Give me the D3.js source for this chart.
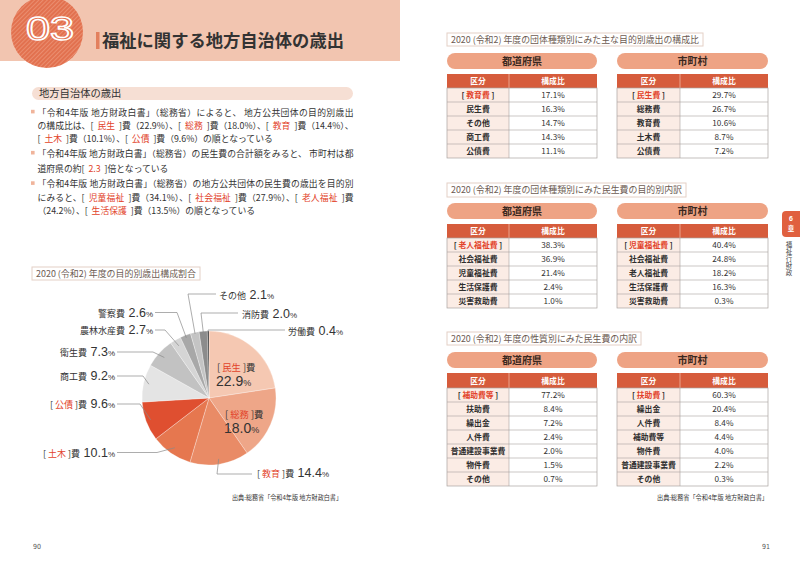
<!DOCTYPE html>
<html><head><meta charset="utf-8">
<script src="https://cdn.jsdelivr.net/npm/d3@7"></script>
<style>body{margin:0;background:#fff}svg{display:block}</style>
</head><body><svg id="c" width="800" height="568"></svg>
<script>
// ---------- DATA ----------
const pieCategories = ["民生費","総務費","教育費","土木費","公債費","商工費","衛生費","農林水産費","警察費","その他","消防費","労働費"];
const pieValues = [22.9,18.0,14.4,10.1,9.6,9.2,7.3,2.7,2.6,2.1,2.0,0.4];
const pieHighlighted = [true,true,true,true,true,false,false,false,false,false,false,false];

const t1PrefNames = ["教育費","民生費","その他","商工費","公債費"];
const t1PrefValues = [17.1,16.3,14.7,14.3,11.1];
const t1MuniNames = ["民生費","総務費","教育費","土木費","公債費"];
const t1MuniValues = [29.7,26.7,10.6,8.7,7.2];

const t2PrefNames = ["老人福祉費","社会福祉費","児童福祉費","生活保護費","災害救助費"];
const t2PrefValues = [38.3,36.9,21.4,2.4,1.0];
const t2MuniNames = ["児童福祉費","社会福祉費","老人福祉費","生活保護費","災害救助費"];
const t2MuniValues = [40.4,24.8,18.2,16.3,0.3];

const t3PrefNames = ["補助費等","扶助費","繰出金","人件費","普通建設事業費","物件費","その他"];
const t3PrefValues = [77.2,8.4,7.2,2.4,2.0,1.5,0.7];
const t3MuniNames = ["扶助費","繰出金","人件費","補助費等","物件費","普通建設事業費","その他"];
const t3MuniValues = [60.3,20.4,8.4,4.4,4.0,2.2,0.3];

// ---------- STYLE ----------
const JP = '"Noto Sans CJK JP", sans-serif';
const NUM = '"Liberation Sans", Arial, sans-serif';
const RED = "#e2432a";
const TXT = "#333";
const pieColors = ["#f5c8b2","#eea688","#e98b66","#e6774f","#df4f30","#e4e4e4","#c2c2c2","#d5d5d5","#a8a8a8","#c4c4c4","#8c8c8c","#3a3a3a"];

const svg = d3.select("#c");
const defs = svg.append("defs");

// ---------- HEADER ----------
svg.append("rect").attr("x",0).attr("y",0).attr("width",400).attr("height",61).attr("fill","#f2c5b0");
const pat = defs.append("pattern").attr("id","stripe").attr("width",3).attr("height",3)
  .attr("patternUnits","userSpaceOnUse").attr("patternTransform","rotate(45)");
pat.append("rect").attr("width",3).attr("height",3).attr("fill","#e2714f");
pat.append("rect").attr("width",1).attr("height",3).attr("fill","#ea8d6f");
svg.append("circle").attr("cx",47).attr("cy",32).attr("r",36).attr("fill","url(#stripe)");
svg.append("text").attr("x",26).attr("y",39.5).attr("textLength",48).attr("lengthAdjust","spacingAndGlyphs")
  .attr("font-family",NUM).attr("font-size",33).attr("fill","#e2714f").attr("stroke","#fff").attr("stroke-width",1.5)
  .text("03");
svg.append("rect").attr("x",96).attr("y",32).attr("width",3.5).attr("height",17).attr("fill","#e3805e");
svg.append("text").attr("x",102).attr("y",47).attr("font-family",JP).attr("font-weight","bold")
  .attr("font-size",17.3).attr("fill",TXT).text("福祉に関する地方自治体の歳出");

// ---------- LEFT TEXT ----------
svg.append("rect").attr("x",32).attr("y",87).attr("width",321).attr("height",13).attr("rx",6.5).attr("fill","#f6dfd4");
svg.append("text").attr("x",39).attr("y",97.3).attr("font-family",JP).attr("font-size",10.3).attr("fill",TXT).text("地方自治体の歳出");

const bulletLines = [
 {y:115.8, b:true, j:true, t:"「令和4年版 地方財政白書」（総務省）によると、 地方公共団体の目的別歳出"},
 {y:128.8, j:true, t:"の構成比は、[ {民生} ]費（22.9%）、[ {総務} ]費（18.0%）、[ {教育} ]費（14.4%）、"},
 {y:141.6, t:"[ {土木} ]費（10.1%）、[ {公債} ]費（9.6%）の順となっている"},
 {y:156.9, b:true, j:true, t:"「令和4年版 地方財政白書」（総務省）の民生費の合計額をみると、 市町村は都"},
 {y:171.6, t:"道府県の約[ {2.3} ]倍となっている"},
 {y:187.3, b:true, j:true, t:"「令和4年版 地方財政白書」（総務省）の地方公共団体の民生費の歳出を目的別"},
 {y:200.6, j:true, t:"にみると、[ {児童福祉} ]費（34.1%）、[ {社会福祉} ]費（27.9%）、[ {老人福祉} ]費"},
 {y:213.5, t:"（24.2%）、[ {生活保護} ]費（13.5%）の順となっている"}
];
function richText(sel, str, red){
  str.split(/(\{[^}]*\})/).filter(s=>s.length).forEach(s=>{
    const isRed = s[0]==="{";
    sel.append("tspan").attr("fill", isRed?red:null).text(isRed? " "+s.slice(1,-1)+" " : s);
  });
}
bulletLines.forEach(l=>{
  if(l.b) svg.append("rect").attr("x",31).attr("y",l.y-6).attr("width",3.6).attr("height",3.6).attr("fill","#f0b49b");
  const t = svg.append("text").attr("x",37.5).attr("y",l.y).attr("font-family",JP).attr("font-size",8.8).attr("fill",TXT)
    .attr("xml:space","preserve");
  if(l.j) t.attr("textLength",316).attr("lengthAdjust","spacing");
  richText(t, l.t, RED);
});

// ---------- TITLE BOXES ----------
function titleBox(x,y,w,h,label,fs){
  svg.append("rect").attr("x",x).attr("y",y).attr("width",w).attr("height",h).attr("fill","#fff")
    .attr("stroke","#e4d0c6").attr("stroke-width",1);
  svg.append("text").attr("x",x+4).attr("y",y+h/2+3.2).attr("font-family",JP).attr("font-size",fs)
    .attr("fill","#6d5b52").attr("textLength",w-8).attr("lengthAdjust","spacingAndGlyphs").text(label);
}
titleBox(32,267,168,13,"2020 (令和2) 年度の目的別歳出構成割合",8.6);
titleBox(447,33,256,13,"2020 (令和2) 年度の団体種類別にみた主な目的別歳出の構成比",9);
titleBox(447,183,239,14,"2020 (令和2) 年度の団体種類別にみた民生費の目的別内訳",9);
titleBox(447,332,194,13,"2020 (令和2) 年度の性質別にみた民生費の内訳",9);

// ---------- PIE ----------
const cx=209, cy=398, R=67;
const pie = d3.pie().sort(null).value(d=>d.v);
const arcs = pie(pieCategories.map((c,i)=>({c, v:pieValues[i], i})));
const arc = d3.arc().innerRadius(0).outerRadius(R);
const pg = svg.append("g").attr("transform",`translate(${cx},${cy})`);
pg.selectAll("path").data(arcs).join("path").attr("d",arc)
  .attr("fill",d=>pieColors[d.data.i]).attr("stroke","#fff").attr("stroke-width",0.3);

// label layout (text placement only; anchors come from the arcs)
const labelLayout = [
 {inside:true, x:217, y:370.5},
 {inside:true, x:225, y:417.5},
 {anchor:"start", tx:257, ty:476.5, pts:[[252,474],[217,474]], rf:0.92},
 {anchor:"end", tx:115, ty:456.5, pts:[[117,452.5],[157,452.5]], rf:0.9},
 {anchor:"end", tx:115, ty:408, pts:[[117,404],[140,404]], rf:0.93},
 {anchor:"end", tx:115, ty:380, pts:[[117,376],[143,376]], rf:0.92},
 {anchor:"end", tx:115, ty:356, pts:[[117,352],[153,352]], rf:0.9},
 {anchor:"end", tx:153, ty:334, pts:[[155,330],[165,330]], rf:0.9},
 {anchor:"end", tx:153, ty:316.5, pts:[[155,312.5],[177,312.5]], rf:0.96},
 {anchor:"start", tx:219, ty:298.5, pts:[[216,294],[188,294]], rf:0.98},
 {anchor:"start", tx:242, ty:317.5, pts:[[238,313],[201,313]], rf:0.98},
 {anchor:"start", tx:288, ty:334.5, pts:[[285,330],[208,330]], rf:1.0}
];
function nameParts(t, i){
  const c = pieCategories[i];
  if(pieHighlighted[i]){
    t.append("tspan").text("[ ");
    t.append("tspan").attr("fill",RED).text(c.replace(/費$/,""));
    t.append("tspan").text(" ]費");
  } else t.append("tspan").text(c);
}
arcs.forEach((a,i)=>{
  const L = labelLayout[i];
  if(L.inside){
    const t1 = svg.append("text").attr("x",L.x).attr("y",L.y).attr("font-family",JP).attr("font-size",9.3).attr("fill",TXT).attr("xml:space","preserve");
    nameParts(t1,i);
    const t2 = svg.append("text").attr("x",L.x-1).attr("y",L.y+15.8).attr("font-family",NUM).attr("fill",TXT);
    t2.append("tspan").attr("font-size",14).text(pieValues[i].toFixed(1));
    t2.append("tspan").attr("font-size",9).text("%");
    return;
  }
  const mid = (a.startAngle+a.endAngle)/2;
  const ax = cx + R*L.rf*Math.sin(mid), ay = cy - R*L.rf*Math.cos(mid);
  const pts = L.pts.concat([[ax,ay]]);
  svg.append("path").attr("d",d3.line()(pts)).attr("fill","none").attr("stroke","#8a8a8a").attr("stroke-width",0.7);
  const t = svg.append("text").attr("x",L.tx).attr("y",L.ty).attr("text-anchor",L.anchor)
    .attr("font-family",JP).attr("font-size",9).attr("fill",TXT).attr("xml:space","preserve");
  nameParts(t,i);
  t.append("tspan").attr("font-family",NUM).attr("font-size",12.5).text(" "+pieValues[i].toFixed(1));
  t.append("tspan").attr("font-family",NUM).attr("font-size",8).text("%");
});
svg.append("text").attr("x",232).attr("y",499.5).attr("font-family",JP).attr("font-size",6.3).attr("fill",TXT)
  .attr("textLength",110).attr("lengthAdjust","spacingAndGlyphs").text("出典:総務省「令和4年版 地方財政白書」");

// ---------- TABLES ----------
function drawTable(x0,w1,w2,pillY,headY,headH,rowH,label,names,values){
  const W=w1+w2;
  svg.append("rect").attr("x",x0).attr("y",pillY).attr("width",W).attr("height",16).attr("rx",8).attr("fill","#eea384");
  svg.append("text").attr("x",x0+W/2).attr("y",pillY+11.5).attr("text-anchor","middle").attr("font-family",JP)
    .attr("font-weight","bold").attr("font-size",10).attr("fill","#3a2820").text(label);
  svg.append("rect").attr("x",x0).attr("y",headY).attr("width",W).attr("height",headH).attr("fill","#d65c3c");
  svg.append("line").attr("x1",x0+w1).attr("x2",x0+w1).attr("y1",headY).attr("y2",headY+headH).attr("stroke","#f3c0ad").attr("stroke-width",0.7);
  [["区分",x0+w1/2],["構成比",x0+w1+w2/2]].forEach(([s,x])=>{
    svg.append("text").attr("x",x).attr("y",headY+headH/2+3).attr("text-anchor","middle").attr("font-family",JP)
      .attr("font-weight","bold").attr("font-size",7.8).attr("fill","#fff").text(s);
  });
  const y = d3.scaleBand().domain(d3.range(names.length)).range([headY+headH, headY+headH+rowH*names.length]);
  const g = svg.append("g");
  const rows = g.selectAll("g").data(names.map((n,i)=>({n,v:values[i],i}))).join("g");
  rows.append("rect").attr("x",x0).attr("y",d=>y(d.i)).attr("width",w1).attr("height",y.bandwidth()).attr("fill","#fbece5");
  rows.append("rect").attr("x",x0+w1).attr("y",d=>y(d.i)).attr("width",w2).attr("height",y.bandwidth()).attr("fill","#fff");
  rows.each(function(d){
    const r = d3.select(this);
    const t = r.append("text").attr("x",x0+w1/2).attr("y",y(d.i)+y.bandwidth()/2+3).attr("text-anchor","middle")
      .attr("font-family",JP).attr("font-weight","bold").attr("font-size",7.8).attr("fill","#2e2e2e").attr("xml:space","preserve");
    if(d.i===0){ t.append("tspan").text("[ "); t.append("tspan").attr("fill",RED).text(d.n); t.append("tspan").text(" ]"); }
    else t.text(d.n);
    r.append("text").attr("x",x0+w1+w2/2).attr("y",y(d.i)+y.bandwidth()/2+3).attr("text-anchor","middle")
      .attr("font-family",JP).attr("font-size",8.2).attr("fill","#333").text(d.v.toFixed(1)+"%");
  });
  names.forEach((n,i)=>{
    if(i>0) g.append("line").attr("x1",x0).attr("x2",x0+W).attr("y1",y(i)).attr("y2",y(i)).attr("stroke","#a9a3a0").attr("stroke-width",0.6);
  });
  const yb = headY+headH+rowH*names.length;
  g.append("line").attr("x1",x0+w1).attr("x2",x0+w1).attr("y1",headY+headH).attr("y2",yb).attr("stroke","#a9a3a0").attr("stroke-width",0.6);
  g.append("rect").attr("x",x0).attr("y",headY+headH).attr("width",W).attr("height",rowH*names.length)
    .attr("fill","none").attr("stroke","#a9a3a0").attr("stroke-width",0.7);
}
drawTable(447,62,88,53,74,14,14,"都道府県",t1PrefNames,t1PrefValues);
drawTable(617,63,88,53,74,14,14,"市町村",t1MuniNames,t1MuniValues);
drawTable(447,62,88,203,224,14,14,"都道府県",t2PrefNames,t2PrefValues);
drawTable(617,63,88,203,224,14,14,"市町村",t2MuniNames,t2MuniValues);
drawTable(447,62,88,352,373,15,14,"都道府県",t3PrefNames,t3PrefValues);
drawTable(617,63,88,352,373,15,14,"市町村",t3MuniNames,t3MuniValues);

svg.append("text").attr("x",768).attr("y",500).attr("text-anchor","end").attr("font-family",JP).attr("font-size",6.3).attr("fill",TXT)
  .attr("textLength",111).attr("lengthAdjust","spacingAndGlyphs").text("出典:総務省「令和4年版 地方財政白書」");

// ---------- SIDE TAB ----------
svg.append("path").attr("d","M800,211 H786 Q782,211 782,215 V233 Q782,237 786,237 H800 Z").attr("fill","#e0603f");
const tabT = svg.append("text").attr("text-anchor","middle").attr("font-weight","bold").attr("fill","#fff").attr("font-family",JP);
tabT.append("tspan").attr("x",791).attr("y",221).attr("font-family",NUM).attr("font-size",7).text("6");
tabT.append("tspan").attr("x",791).attr("y",231).attr("font-size",6.5).text("章");
svg.append("text").attr("x",789).attr("y",241).attr("font-family",JP).attr("font-size",6.5).attr("fill","#444")
  .style("writing-mode","vertical-rl").attr("letter-spacing",0.6).text("福祉行財政");

// ---------- PAGE NUMBERS ----------
svg.append("text").attr("x",33).attr("y",549).attr("font-family",'"DejaVu Sans Condensed","Liberation Sans Narrow",sans-serif').attr("font-size",7).attr("fill","#555").text("90");
svg.append("text").attr("x",762).attr("y",549).attr("font-family",'"DejaVu Sans Condensed","Liberation Sans Narrow",sans-serif').attr("font-size",7).attr("fill","#555").text("91");
</script></body></html>
